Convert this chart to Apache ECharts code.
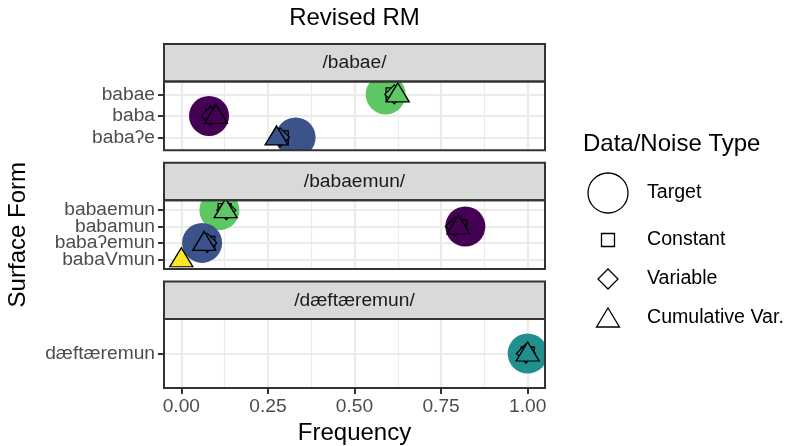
<!DOCTYPE html>
<html>
<head>
<meta charset="utf-8">
<script src="https://cdn.jsdelivr.net/npm/echarts@6/dist/echarts.min.js"></script>
<style>html,body{margin:0;padding:0;background:#fff;}#c{width:789px;height:446px;}</style>
</head>
<body>
<div id="c"></div>
<script>
// ---------- data ----------
const panels = ['/babae/', '/babaemun/', '/dæftæremun/'];
const forms = [
  ['babae', 'baba', 'babaʔe'],
  ['babaemun', 'babamun', 'babaʔemun', 'babaVmun'],
  ['dæftæremun']
];
const targetFreq     = [[0.59, 0.08, 0.33], [0.11, 0.82, 0.06, null], [1.0]];
const constantFreq   = [[0.61, 0.09, 0.29], [0.125, 0.805, 0.078, null], [1.0]];
const variableFreq   = [[0.615, 0.085, 0.285], [0.13, 0.79, 0.075, null], [0.995]];
const cumulativeFreq = [[0.625, 0.10, 0.275], [0.128, 0.80, 0.066, 0.0], [1.0]];
const colorGroup     = [[3, 0, 1], [3, 0, 1, 4], [2]];
const xTickValues = [0, 0.25, 0.5, 0.75, 1];
const noiseTypes = ['Target', 'Constant', 'Variable', 'Cumulative Var.'];

// ---------- style / layout ----------
const viridis = ['#440154', '#3B528B', '#21908C', '#5DC863', '#FDE725'];
const FONT = '"Liberation Sans", Arial, Helvetica, sans-serif';
const PL = 164, PW = 381, TOP0 = 44, STRIP = 37.5, PH = 68.8, GAP = 12.5;
const XMIN = -0.05, XMAX = 1.05;
const bgLeft = PL + PW * (0 - XMIN) / (XMAX - XMIN);
const bgWidth = PW / (XMAX - XMIN);
const GRID = '#EBEBEB', DARK = '#333333';
const SMALL = 19.2, BIG = 24;

const grids = [], xAxes = [], yAxes = [], series = [], graphics = [];

for (let k = 0; k < panels.length; k++) {
  const stripTop = TOP0 + k * (STRIP + PH + GAP);
  const panelTop = stripTop + STRIP;
  const n = forms[k].length;
  const sp = PH / (n + 0.2);
  const last = k === panels.length - 1;

  // background grid (vertical gridlines, bottom labels)
  grids.push({left: bgLeft, top: panelTop, width: bgWidth, height: PH, containLabel: false});
  xAxes.push({
    gridIndex: 2 * k, type: 'value', min: 0, max: 1, interval: 0.25,
    axisLine: {show: false},
    axisTick: {show: last, length: 6, lineStyle: {color: DARK, width: 2}},
    axisLabel: {show: last, fontSize: SMALL, color: '#4D4D4D', fontFamily: FONT, margin: 9,
      formatter: v => xTickValues.indexOf(v) >= 0 ? v.toFixed(2) : ''},
    splitLine: {show: true, lineStyle: {color: GRID, width: 2.2}},
    minorTick: {show: false, splitNumber: 2},
    minorSplitLine: {show: true, lineStyle: {color: GRID, width: 1.1}},
    name: last ? 'Frequency' : '', nameLocation: 'middle', nameGap: 33,
    nameTextStyle: {fontSize: BIG, color: '#000', fontFamily: FONT, verticalAlign: 'top'}
  });
  yAxes.push({gridIndex: 2 * k, type: 'value', min: 0, max: 1, show: false});

  // data grid
  grids.push({left: PL, top: panelTop + 0.1 * sp, width: PW, height: n * sp, containLabel: false});
  xAxes.push({gridIndex: 2 * k + 1, type: 'value', min: XMIN, max: XMAX, show: false});
  yAxes.push({
    gridIndex: 2 * k + 1, type: 'category', data: forms[k], inverse: true,
    axisLine: {show: false, onZero: false},
    axisTick: {show: true, alignWithLabel: true, interval: 0, length: 6, lineStyle: {color: DARK, width: 2}},
    axisLabel: {interval: 0, fontSize: SMALL, color: '#4D4D4D', fontFamily: FONT, margin: 9},
    splitLine: {show: true, alignWithLabel: true, interval: 0, lineStyle: {color: GRID, width: 2.2}}
  });

  const mk = (vals, extra) => forms[k].map((f, i) => vals[k][i] == null ? null :
      {value: [vals[k][i], f], itemStyle: Object.assign({color: viridis[colorGroup[k][i]], opacity: 1}, extra)})
      .filter(d => d);
  const common = {type: 'scatter', xAxisIndex: 2 * k + 1, yAxisIndex: 2 * k + 1, clip: false, silent: true,
    animation: false, itemStyle: {opacity: 1}};
  const border = {borderColor: '#000', borderWidth: 1.3};
  series.push(Object.assign({}, common, {name: noiseTypes[0], symbol: 'circle', symbolSize: 40, z: 2, data: mk(targetFreq, {})}));
  series.push(Object.assign({}, common, {name: noiseTypes[1], symbol: 'rect', symbolSize: 13, z: 3, data: mk(constantFreq, border)}));
  series.push(Object.assign({}, common, {name: noiseTypes[2], symbol: 'diamond', symbolSize: 19, z: 3, data: mk(variableFreq, border)}));
  series.push(Object.assign({}, common, {name: noiseTypes[3], symbol: 'triangle', symbolSize: [23, 19], symbolOffset: [0, -2], z: 3, data: mk(cumulativeFreq, border)}));

  // strip
  graphics.push({type: 'rect', z: 20, shape: {x: PL, y: stripTop, width: PW, height: STRIP},
    style: {fill: '#D9D9D9', stroke: DARK, lineWidth: 2}});
  graphics.push({type: 'text', z: 21, x: PL + PW / 2, y: stripTop + STRIP / 2,
    style: {text: panels[k], fill: '#1A1A1A', fontSize: SMALL, fontFamily: FONT, align: 'center', verticalAlign: 'middle'}});
  // panel border
  graphics.push({type: 'rect', z: 20, shape: {x: PL, y: panelTop, width: PW, height: PH},
    style: {fill: 'none', stroke: DARK, lineWidth: 2}});
  // clip masks
  if (!last) {
    graphics.push({type: 'rect', z: 10, shape: {x: PL - 1, y: panelTop + PH, width: PW + 2, height: GAP},
      style: {fill: '#fff'}});
  }
}
const panelsBottom = TOP0 + 3 * (STRIP + PH) + 2 * GAP;
graphics.push({type: 'rect', z: 10, shape: {x: PL + PW + 1, y: TOP0, width: 30, height: panelsBottom - TOP0},
  style: {fill: '#fff'}});
// y axis title (centred on the panel rows)
graphics.push({type: 'text', z: 21, x: 18, y: (TOP0 + STRIP + panelsBottom) / 2, rotation: Math.PI / 2,
  style: {text: 'Surface Form', fill: '#000', fontSize: BIG, fontFamily: FONT, align: 'center', verticalAlign: 'middle'}});

// legend (key glyphs + labels)
const keyX = 608, labelX = 647;
const legendRows = [
  {name: noiseTypes[0], cy: 193},
  {name: noiseTypes[1], cy: 240},
  {name: noiseTypes[2], cy: 279},
  {name: noiseTypes[3], cy: 318}
];
const keyStyle = {fill: 'none', stroke: '#000', lineWidth: 1.3};
legendRows.forEach((r, i) => {
  let g;
  if (i === 0) g = {type: 'circle', shape: {cx: keyX, cy: r.cy, r: 20}};
  else if (i === 1) g = {type: 'rect', shape: {x: keyX - 6.5, y: r.cy - 6.5, width: 13, height: 13}};
  else if (i === 2) g = {type: 'polygon', shape: {points: [[keyX, r.cy - 10], [keyX + 10, r.cy], [keyX, r.cy + 10], [keyX - 10, r.cy]]}};
  else g = {type: 'polygon', shape: {points: [[keyX, r.cy - 10], [keyX + 11.5, r.cy + 9], [keyX - 11.5, r.cy + 9]]}};
  g.style = keyStyle; g.z = 21;
  graphics.push(g);
  graphics.push({type: 'text', z: 21, x: labelX, y: r.cy,
    style: {text: r.name, fill: '#000', fontSize: 19.6, fontFamily: FONT, align: 'left', verticalAlign: 'middle'}});
});

const chart = echarts.init(document.getElementById('c'), null, {renderer: 'canvas'});
chart.setOption({
  animation: false,
  backgroundColor: '#fff',
  title: [
    {text: 'Revised RM', left: PL + PW / 2, textAlign: 'center', top: 6, padding: 0,
      textStyle: {fontSize: BIG, fontWeight: 'normal', color: '#000', fontFamily: FONT}},
    {text: 'Data/Noise Type', left: 583, top: 132, padding: 0,
      textStyle: {fontSize: BIG, fontWeight: 'normal', color: '#000', fontFamily: FONT}}
  ],
  grid: grids, xAxis: xAxes, yAxis: yAxes, series: series,
  graphic: {elements: graphics}
});
</script>
</body>
</html>
